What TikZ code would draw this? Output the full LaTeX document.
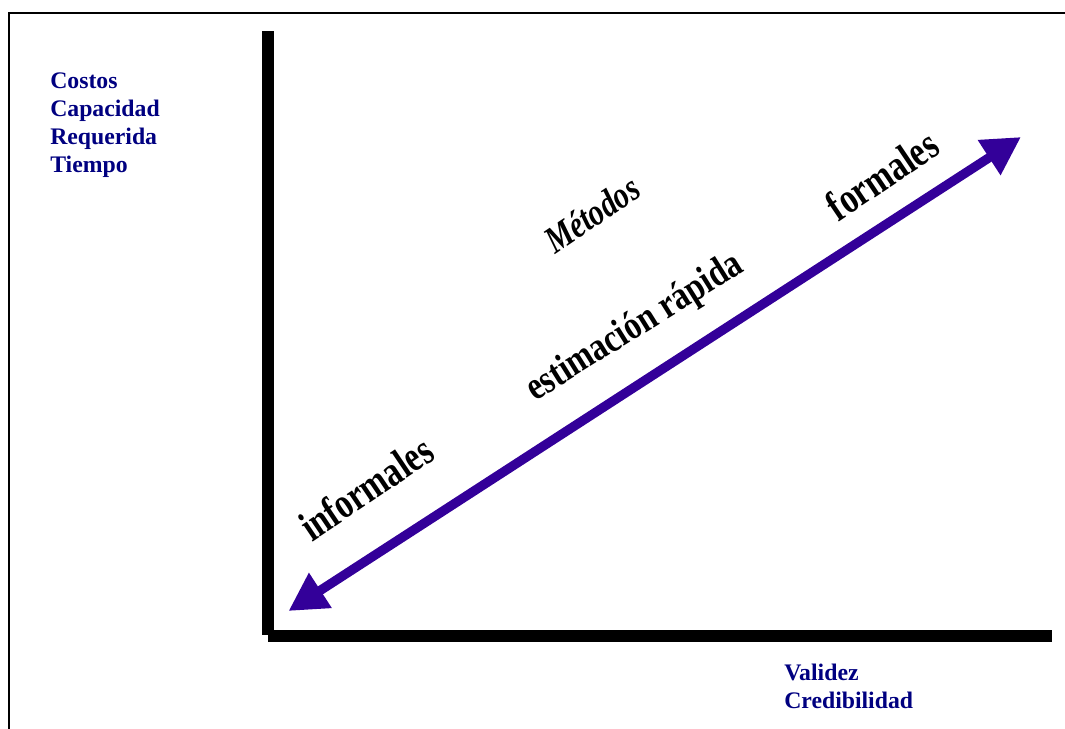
\documentclass[tikz,border=0pt]{standalone}
\usepackage{fontspec}
\usepackage{graphicx}
\setmainfont{Liberation Serif}
\usetikzlibrary{arrows.meta}
\definecolor{labelblue}{RGB}{0,0,128}
\definecolor{arrowblue}{RGB}{51,0,153}
\tikzset{
  frameline/.style={draw=black,line width=1.1pt},
  axis/.style={draw=black,line width=9pt},
  dbl/.style={draw=arrowblue,line width=7pt,{Triangle[length=28.5pt,width=29.5pt,fill=arrowblue]}-{Triangle[length=28.5pt,width=29.5pt,fill=arrowblue]}},
  lab/.style={text=labelblue,font=\fontsize{17.8pt}{21pt}\selectfont\bfseries,align=left,anchor=north west,inner sep=0pt},
  art/.style={text=black,inner sep=0pt,anchor=center}
}
\begin{document}
\begin{tikzpicture}[x=0.75pt,y=-0.75pt]
\useasboundingbox (0,0) rectangle (1065,729);
\coordinate (fb) at (9,729);
\coordinate (fc) at (9,13);
\coordinate (fr) at (1065,13);
\draw[frameline] (fb) -- (fc) -- (fr);
\coordinate (vt) at (268,31);
\coordinate (vb) at (268,635);
\coordinate (hl) at (268,635.5);
\coordinate (hr) at (1052,635.5);
\draw[axis] (vt) -- (vb);
\draw[axis] (hl) -- (hr);
\coordinate (al) at (288.5,611);
\coordinate (ar) at (1021,137);
\draw[dbl] (al) -- (ar);
\node[lab] (y) at (50,72.5) {Costos\\Capacidad\\Requerida\\Tiempo};
\node[lab] (x) at (784,664) {Validez\\Credibilidad};
\node[art,rotate=34,font=\fontsize{27pt}{30pt}\selectfont\bfseries\itshape] (m) at (592,214) {\scalebox{0.84}[1.05]{Métodos}};
\node[art,rotate=32,font=\fontsize{30pt}{32pt}\selectfont\bfseries] (e) at (635,328) {\scalebox{0.81}[1]{estimación rápida}};
\node[art,rotate=34,font=\fontsize{33pt}{36pt}\selectfont\bfseries] (i) at (366,488) {\scalebox{0.75}[0.98]{informales}};
\node[art,rotate=34,font=\fontsize{33pt}{36pt}\selectfont\bfseries] (f) at (882,175) {\scalebox{0.76}[0.98]{formales}};
\end{tikzpicture}
\end{document}
